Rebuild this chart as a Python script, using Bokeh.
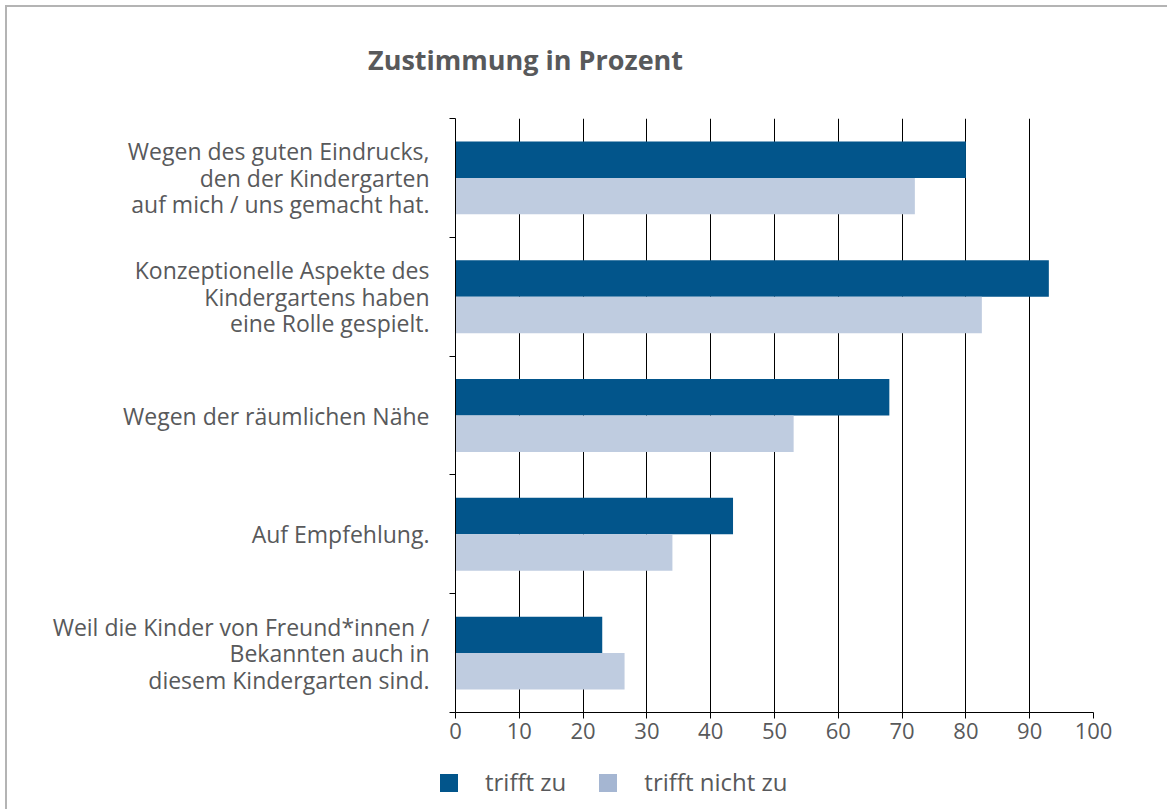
from bokeh.plotting import figure
from bokeh.layouts import column
from bokeh.models import (Range1d, SingleIntervalTicker, FixedTicker, ColumnDataSource, Div)
from bokeh.embed import file_html
from bokeh.resources import INLINE

# ---- data ----
categories = [
    "Wegen des guten Eindrucks,\nden der Kindergarten\nauf mich / uns gemacht hat.",
    "Konzeptionelle Aspekte des\nKindergartens haben\neine Rolle gespielt.",
    "Wegen der räumlichen Nähe",
    "Auf Empfehlung.",
    "Weil die Kinder von Freund*innen /\nBekannten auch in\ndiesem Kindergarten sind.",
]
trifft_zu = [80, 93, 68, 43.5, 23]
trifft_nicht_zu = [72, 82.5, 53, 34, 26.5]
series_names = ["trifft zu", "trifft nicht zu"]
title_text = "Zustimmung in Prozent"

DARK = "#02558b"
LIGHT = "#bfcce0"
LIGHT_LEGEND = "#a5b6d2"
TEXT = "#58595b"
FONT = "Open Sans"

n = len(categories)
centers = [n - i - 0.5 for i in range(n)]
bounds = [float(i) for i in range(n + 1)]
bar_h = 0.307

# title strip (HTML)
title_div = Div(
    width=1160, height=80, margin=0,
    text=(f'<div style="padding-left:361px;padding-top:39px;font-family:\'{FONT}\';'
          f'font-size:27px;line-height:1;font-weight:bold;color:{TEXT};'
          f'white-space:nowrap;">{title_text}</div>'))

p = figure(width=1160, height=673, output_backend="svg", toolbar_location=None,
           title=None,
           x_range=Range1d(0, 100), y_range=Range1d(0, n),
           min_border_left=448, min_border_top=31, min_border_right=74,
           min_border_bottom=48)
p.outline_line_color = None
p.background_fill_color = "white"

# x axis
p.xaxis.ticker = SingleIntervalTicker(interval=10)
p.xaxis.axis_line_color = "black"
p.xaxis.major_tick_line_color = "black"
p.xaxis.major_tick_out = 6
p.xaxis.major_tick_in = 0
p.xaxis.minor_tick_line_color = None
p.xaxis.major_label_text_font = FONT
p.xaxis.major_label_text_font_size = "22px"
p.xaxis.major_label_text_color = TEXT
p.xaxis.major_label_standoff = 4

# y axis: labels at category centres, boundary ticks as minor ticks
p.yaxis.ticker = FixedTicker(ticks=centers, minor_ticks=bounds)
p.yaxis.major_label_overrides = {c: t for c, t in zip(centers, categories)}
p.yaxis.axis_line_color = "black"
p.yaxis.major_tick_line_color = None
p.yaxis.major_tick_out = 0
p.yaxis.major_tick_in = 0
p.yaxis.minor_tick_line_color = "black"
p.yaxis.minor_tick_out = 6
p.yaxis.minor_tick_in = 0
p.yaxis.major_label_standoff = 20
p.yaxis.major_label_text_font = FONT
p.yaxis.major_label_text_font_size = "23px"
p.yaxis.major_label_text_color = TEXT
p.yaxis.major_label_text_line_height = 0.83

p.xgrid.ticker = SingleIntervalTicker(interval=10)
p.xgrid.grid_line_color = "black"
p.xgrid.grid_line_width = 1
p.ygrid.grid_line_color = None

src = ColumnDataSource(dict(
    y_dark=[c + bar_h / 2 for c in centers],
    y_light=[c - bar_h / 2 for c in centers],
    zu=trifft_zu, nicht=trifft_nicht_zu))

p.hbar(y="y_dark", left=0, right="zu", height=bar_h, source=src,
       fill_color=DARK, line_color=None)
p.hbar(y="y_light", left=0, right="nicht", height=bar_h, source=src,
       fill_color=LIGHT, line_color=None)

# legend strip below the chart (HTML)
items_html = "".join(
    f'<span style="display:inline-block;width:18px;height:18px;background:{col};'
    f'margin-right:27px;"></span>'
    f'<span style="margin-right:33px;">{name}</span>'
    for name, col in zip(series_names, [DARK, LIGHT_LEGEND]))
legend_div = Div(
    width=1160, height=49, margin=0,
    text=(f'<div style="display:flex;align-items:center;height:36px;'
          f'padding-left:433px;padding-top:9px;font-family:\'{FONT}\';'
          f'font-size:24px;color:{TEXT};white-space:nowrap;">{items_html}</div>'))

layout = column(title_div, p, legend_div, spacing=0,
                styles={"margin-left": "5px", "margin-top": "5px",
                        "border-top": "2px solid #b4b4b4",
                        "border-left": "2px solid #b4b4b4"})

open("out.html", "w").write(file_html(layout, INLINE))
